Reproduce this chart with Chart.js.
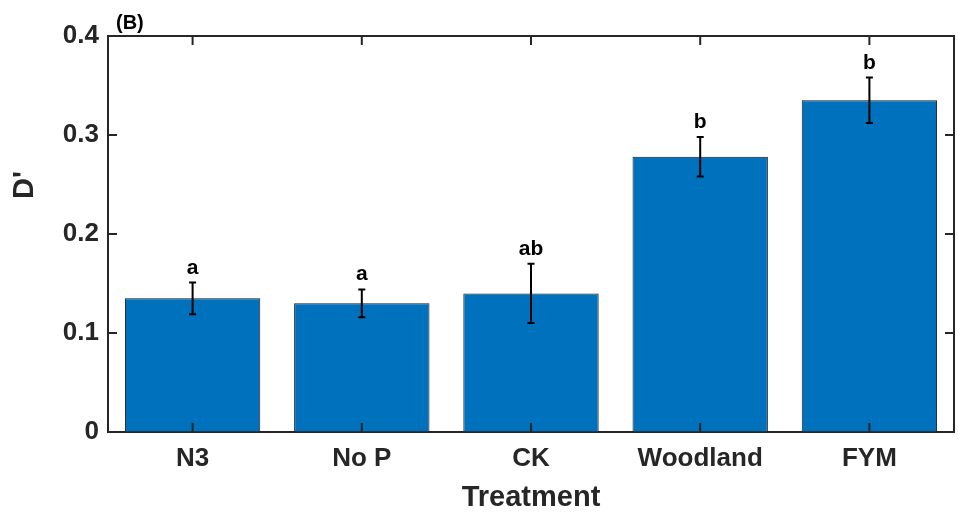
<!DOCTYPE html>
<html>
<head>
<meta charset="utf-8">
<script src="https://cdn.jsdelivr.net/npm/chart.js@4.4.0/dist/chart.umd.min.js"></script>
<style>
    html, body { margin: 0; padding: 0; background: #ffffff; }
    #chart-wrap { width: 958px; height: 513px; }
</style>
</head>
<body>
<div id="chart-wrap"><canvas id="bar-chart" width="958" height="513"></canvas></div>
<script>
const treatments = ['N3', 'No P', 'CK', 'Woodland', 'FYM'];
const dValues = [0.135, 0.130, 0.140, 0.278, 0.335];
const dErrors = [0.016, 0.014, 0.030, 0.020, 0.023];
const groupLetters = ['a', 'a', 'ab', 'b', 'b'];
const yTicks = [0, 0.1, 0.2, 0.3, 0.4];

const axisColor = '#262626';
const fontFamily = '"Liberation Sans", Arial, Helvetica, sans-serif';

// error bars + significance letters on top of each bar
const errorBarPlugin = {
    id: 'errorBars',
    afterDatasetsDraw(chart) {
        const ctx = chart.ctx;
        const yScale = chart.scales.y;
        const meta = chart.getDatasetMeta(0);
        ctx.save();
        ctx.strokeStyle = '#000000';
        ctx.lineWidth = 2;
        ctx.fillStyle = '#000000';
        ctx.font = `bold 21px ${fontFamily}`;
        ctx.textAlign = 'center';
        ctx.textBaseline = 'alphabetic';
        meta.data.forEach((bar, i) => {
            const x = bar.x;
            const yTop = yScale.getPixelForValue(dValues[i] + dErrors[i]);
            const yBottom = yScale.getPixelForValue(dValues[i] - dErrors[i]);
            ctx.beginPath();
            ctx.moveTo(x, yTop);
            ctx.lineTo(x, yBottom);
            ctx.moveTo(x - 3.5, yTop);
            ctx.lineTo(x + 3.5, yTop);
            ctx.moveTo(x - 3.5, yBottom);
            ctx.lineTo(x + 3.5, yBottom);
            ctx.stroke();
            ctx.fillText(groupLetters[i], x, yTop - 9);
        });
        ctx.restore();
    }
};

// box around the axes, inward ticks, titles
const framePlugin = {
    id: 'frame',
    afterDraw(chart) {
        const ctx = chart.ctx;
        const { left, right, top, bottom } = chart.chartArea;
        const xScale = chart.scales.x;
        const yScale = chart.scales.y;
        const tickLen = 9;

        ctx.save();
        ctx.strokeStyle = axisColor;
        ctx.lineWidth = 2;
        ctx.beginPath();
        ctx.moveTo(left - 1, top);
        ctx.lineTo(right, top);
        ctx.lineTo(right, bottom + 1);
        ctx.stroke();

        ctx.beginPath();
        yTicks.forEach(v => {
            const y = yScale.getPixelForValue(v);
            ctx.moveTo(left, y);
            ctx.lineTo(left + tickLen, y);
            ctx.moveTo(right, y);
            ctx.lineTo(right - tickLen, y);
        });
        treatments.forEach((t, i) => {
            const x = xScale.getPixelForValue(i);
            ctx.moveTo(x, bottom);
            ctx.lineTo(x, bottom - tickLen);
            ctx.moveTo(x, top);
            ctx.lineTo(x, top + tickLen);
        });
        ctx.stroke();

        ctx.fillStyle = axisColor;
        ctx.textBaseline = 'alphabetic';
        ctx.textAlign = 'center';
        ctx.font = `bold 29px ${fontFamily}`;
        ctx.fillText('Treatment', (left + right) / 2, 506);

        ctx.save();
        ctx.translate(33, 185);
        ctx.rotate(-Math.PI / 2);
        ctx.fillText("D'", 0, 0);
        ctx.restore();

        ctx.textAlign = 'left';
        ctx.fillStyle = '#000000';
        ctx.font = `bold 20px ${fontFamily}`;
        ctx.fillText('(B)', 116, 29);
        ctx.restore();
    }
};

window.addEventListener('DOMContentLoaded', () => {
    const ctx = document.getElementById('bar-chart').getContext('2d');

    new Chart(ctx, {
        type: 'bar',
        data: {
            labels: treatments,
            datasets: [{
                data: dValues,
                backgroundColor: '#0072BD',
                borderColor: '#1a1a1a',
                borderWidth: 1,
                barPercentage: 0.8,
                categoryPercentage: 1.0
            }]
        },
        options: {
            responsive: false,
            devicePixelRatio: 1,
            animation: false,
            layout: {
                padding: { top: 36, right: 4, left: 0, bottom: 0 }
            },
            plugins: {
                legend: { display: false },
                tooltip: { enabled: false }
            },
            scales: {
                x: {
                    grid: { drawOnChartArea: false, drawTicks: false },
                    border: { color: axisColor, width: 2 },
                    ticks: {
                        color: axisColor,
                        padding: 11,
                        font: { family: fontFamily, size: 26, weight: 'bold' }
                    },
                    afterFit(scale) {
                        scale.height = 81;
                    }
                },
                y: {
                    min: 0,
                    max: 0.4,
                    grid: { drawOnChartArea: false, drawTicks: false },
                    border: { color: axisColor, width: 2 },
                    afterBuildTicks(scale) {
                        scale.ticks = yTicks.map(v => ({ value: v }));
                    },
                    ticks: {
                        color: axisColor,
                        padding: 9,
                        font: { family: fontFamily, size: 26, weight: 'bold' },
                        callback: (value) => value === 0 ? '0' : value.toFixed(1)
                    },
                    afterFit(scale) {
                        scale.width = 108;
                    }
                }
            }
        },
        plugins: [errorBarPlugin, framePlugin]
    });
});
</script>
</body>
</html>
